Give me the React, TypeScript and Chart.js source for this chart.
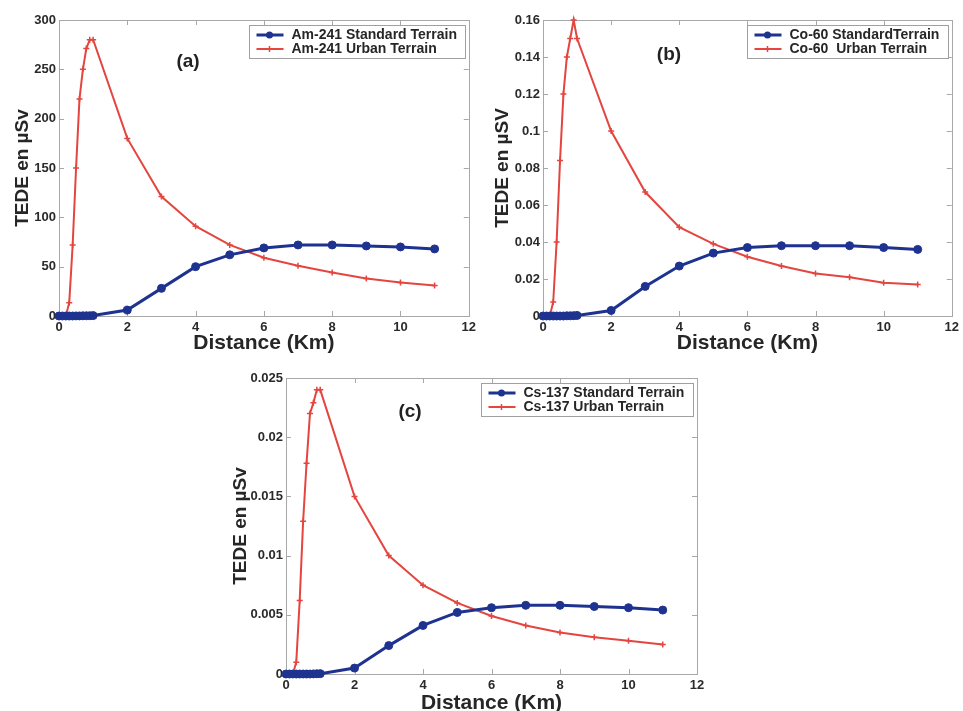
import React, { useEffect, useRef } from "react";
import { Chart, registerables } from "chart.js";
Chart.register(...registerables);

const distances = [0, 0.1, 0.2, 0.3, 0.4, 0.5, 0.6, 0.7, 0.8, 0.9, 1, 2, 3, 4, 5, 6, 7, 8, 9, 10, 11];
const xTicks = [0, 2, 4, 6, 8, 10, 12];

const amStandard = [0, 0, 0, 0, 0, 0.1, 0.1, 0.2, 0.2, 0.3, 0.4, 6, 28, 50, 62, 69, 72, 72, 71, 70, 68];
const amUrban = [0, 0, 0, 13.5, 72, 150, 220, 250, 271, 280, 280, 180, 121, 91, 72, 59, 51, 44, 38, 34, 31];
const amTicks = [0, 50, 100, 150, 200, 250, 300];

const coStandard = [0, 0, 0, 0, 0, 0, 0, 0.0001, 0.0001, 0.0002, 0.0003, 0.003, 0.016, 0.027, 0.034, 0.037, 0.038, 0.038, 0.038, 0.037, 0.036];
const coUrban = [0, 0, 0, 0.0076, 0.04, 0.084, 0.12, 0.14, 0.15, 0.16, 0.15, 0.1, 0.067, 0.048, 0.039, 0.032, 0.027, 0.023, 0.021, 0.018, 0.017];
const coTicks = [0, 0.02, 0.04, 0.06, 0.08, 0.1, 0.12, 0.14, 0.16];

const csStandard = [0, 0, 0, 0, 0, 0, 0, 0, 0.00001, 0.00002, 0.00003, 0.0005, 0.0024, 0.0041, 0.0052, 0.0056, 0.0058, 0.0058, 0.0057, 0.0056, 0.0054];
const csUrban = [0, 0, 0, 0.001, 0.0062, 0.0129, 0.0178, 0.022, 0.0229, 0.024, 0.024, 0.015, 0.01, 0.0075, 0.006, 0.0049, 0.0041, 0.0035, 0.0031, 0.0028, 0.0025];
const csTicks = [0, 0.005, 0.01, 0.015, 0.02, 0.025];

const FONT = "'Liberation Sans', Arial, Helvetica, sans-serif";
const BLUE = "#1e3390";
const RED = "#e4453f";

const decorPlugin = {
  id: "decor",
  beforeDatasetsDraw(chart: any) {
    const ctx = chart.ctx;
    const ca = chart.chartArea;
    ctx.save();
    ctx.strokeStyle = "#a8a8a8";
    ctx.lineWidth = 1;
    const L = 5;
    const xs = chart.scales.x;
    const ys = chart.scales.y;
    ctx.beginPath();
    xs.ticks.forEach((t: any) => {
      const px = Math.round(xs.getPixelForValue(t.value)) + 0.5;
      ctx.moveTo(px, ca.bottom);
      ctx.lineTo(px, ca.bottom - L);
      ctx.moveTo(px, ca.top);
      ctx.lineTo(px, ca.top + L);
    });
    ys.ticks.forEach((t: any) => {
      const py = Math.round(ys.getPixelForValue(t.value)) + 0.5;
      ctx.moveTo(ca.left, py);
      ctx.lineTo(ca.left + L, py);
      ctx.moveTo(ca.right, py);
      ctx.lineTo(ca.right - L, py);
    });
    ctx.stroke();
    ctx.strokeRect(Math.round(ca.left) + 0.5, Math.round(ca.top) + 0.5, Math.round(ca.right - ca.left), Math.round(ca.bottom - ca.top));
    ctx.restore();
  },
  afterDatasetsDraw(chart: any, _args: any, opts: any) {
    const ctx = chart.ctx;
    const ca = chart.chartArea;
    ctx.save();
    // panel label
    ctx.font = `bold 19px ${FONT}`;
    ctx.fillStyle = "#222";
    ctx.textAlign = "center";
    ctx.textBaseline = "middle";
    ctx.fillText(opts.panel, ca.left + opts.panelDx, ca.top + opts.panelDy);
    // legend
    ctx.font = `bold 14px ${FONT}`;
    const dss = chart.data.datasets;
    const textW = Math.max(...dss.map((d: any) => ctx.measureText(d.label).width));
    const w = Math.round(51 + textW);
    const h = 33;
    const x0 = Math.round(ca.right - 4 - w) + 0.5;
    const y0 = Math.round(ca.top + 5) + 0.5;
    ctx.fillStyle = "#fff";
    ctx.fillRect(x0, y0, w, h);
    ctx.strokeStyle = "#a0a0a0";
    ctx.lineWidth = 1;
    ctx.strokeRect(x0, y0, w, h);
    dss.forEach((d: any, i: number) => {
      const y = y0 + 9.5 + i * 14;
      ctx.strokeStyle = d.borderColor;
      ctx.lineWidth = d.borderWidth;
      ctx.beginPath();
      ctx.moveTo(x0 + 7, y);
      ctx.lineTo(x0 + 34, y);
      ctx.stroke();
      const mx = x0 + 20;
      if (d.pointStyle === "cross") {
        ctx.lineWidth = 1.5;
        ctx.beginPath();
        ctx.moveTo(mx - 3, y);
        ctx.lineTo(mx + 3, y);
        ctx.moveTo(mx, y - 3);
        ctx.lineTo(mx, y + 3);
        ctx.stroke();
      } else {
        ctx.fillStyle = d.borderColor;
        ctx.beginPath();
        ctx.arc(mx, y, 3.5, 0, Math.PI * 2);
        ctx.fill();
      }
      ctx.fillStyle = "#262626";
      ctx.textAlign = "left";
      ctx.textBaseline = "middle";
      ctx.fillText(d.label, x0 + 42, y + 0.5);
    });
    ctx.restore();
  },
};

type PanelProps = {
  left: number;
  top: number;
  width: number;
  height: number;
  yWidth: number;
  xHeight: number;
  padTop: number;
  padRight: number;
  yTitlePad: number;
  yTitle: string;
  yTicks: number[];
  standard: number[];
  urban: number[];
  standardLabel: string;
  urbanLabel: string;
  panel: string;
  panelDx: number;
  panelDy: number;
};

function fmt(v: number) {
  return String(Number(v.toFixed(5)));
}

function Panel(p: PanelProps) {
  const ref = useRef<HTMLCanvasElement | null>(null);
  useEffect(() => {
    if (!ref.current) return;
    const tickFont = { family: FONT, size: 13, weight: "bold" as const };
    const chart = new Chart(ref.current, {
      type: "line",
      data: {
        datasets: [
          {
            label: p.standardLabel,
            data: distances.map((x, i) => ({ x, y: p.standard[i] })),
            borderColor: BLUE,
            backgroundColor: BLUE,
            borderWidth: 3,
            pointStyle: "circle",
            pointRadius: 4,
            pointBackgroundColor: BLUE,
            pointBorderColor: BLUE,
            pointBorderWidth: 1,
            tension: 0,
            clip: false as any,
          },
          {
            label: p.urbanLabel,
            data: distances.map((x, i) => ({ x, y: p.urban[i] })),
            borderColor: RED,
            backgroundColor: RED,
            borderWidth: 2,
            pointStyle: "cross",
            pointRadius: 3,
            pointBorderColor: RED,
            pointBorderWidth: 1.5,
            tension: 0,
            clip: false as any,
          },
        ],
      },
      options: {
        animation: false,
        responsive: false,
        maintainAspectRatio: false,
        layout: { padding: { top: p.padTop, right: p.padRight, left: 0, bottom: 0 } },
        plugins: {
          legend: { display: false },
          tooltip: { enabled: false },
          decor: { panel: p.panel, panelDx: p.panelDx, panelDy: p.panelDy },
        } as any,
        scales: {
          x: {
            type: "linear",
            min: 0,
            max: 12,
            afterBuildTicks: (s: any) => {
              s.ticks = xTicks.map((v) => ({ value: v }));
            },
            afterFit: (s: any) => {
              s.height = p.xHeight;
            },
            grid: { display: false, drawTicks: false },
            border: { display: false },
            ticks: { font: tickFont, color: "#2a2a2a", padding: 4, callback: (v: any) => fmt(Number(v)) },
            title: {
              display: true,
              text: "Distance (Km)",
              font: { family: FONT, size: 21, weight: "bold" },
              color: "#262626",
              padding: { top: 0, bottom: 4 },
            },
          },
          y: {
            type: "linear",
            min: 0,
            max: p.yTicks[p.yTicks.length - 1],
            afterBuildTicks: (s: any) => {
              s.ticks = p.yTicks.map((v) => ({ value: v }));
            },
            afterFit: (s: any) => {
              s.width = p.yWidth;
            },
            grid: { display: false, drawTicks: false },
            border: { display: false },
            ticks: { font: tickFont, color: "#2a2a2a", padding: 3, callback: (v: any) => fmt(Number(v)) },
            title: {
              display: true,
              text: p.yTitle,
              font: { family: FONT, size: 19, weight: "bold" },
              color: "#262626",
              padding: { top: p.yTitlePad, bottom: 0 },
            },
          },
        },
      },
      plugins: [decorPlugin],
    } as any);
    return () => chart.destroy();
  }, []);
  return (
    <div style={{ position: "absolute", left: p.left, top: p.top, width: p.width, height: p.height }}>
      <canvas ref={ref} width={p.width} height={p.height} style={{ display: "block" }} />
    </div>
  );
}

export default function App() {
  return (
    <div
      style={{
        position: "fixed",
        left: 0,
        top: 0,
        width: 963,
        height: 711,
        overflow: "hidden",
        background: "#fff",
      }}
    >
      <Panel
        left={0}
        top={0}
        width={480}
        height={360}
        yWidth={59}
        xHeight={44}
        padTop={20}
        padRight={10}
        yTitlePad={11}
        yTitle="TEDE en µSv"
        yTicks={amTicks}
        standard={amStandard}
        urban={amUrban}
        standardLabel="Am-241 Standard Terrain"
        urbanLabel="Am-241 Urban Terrain"
        panel="(a)"
        panelDx={129}
        panelDy={42}
      />
      <Panel
        left={480}
        top={0}
        width={483}
        height={360}
        yWidth={63}
        xHeight={44}
        padTop={20}
        padRight={9}
        yTitlePad={11}
        yTitle="TEDE en µSV"
        yTicks={coTicks}
        standard={coStandard}
        urban={coUrban}
        standardLabel="Co-60 StandardTerrain"
        urbanLabel="Co-60  Urban Terrain"
        panel="(b)"
        panelDx={126}
        panelDy={35}
      />
      <Panel
        left={200}
        top={360}
        width={520}
        height={360}
        yWidth={86}
        xHeight={46}
        padTop={18}
        padRight={23}
        yTitlePad={29}
        yTitle="TEDE en µSv"
        yTicks={csTicks}
        standard={csStandard}
        urban={csUrban}
        standardLabel="Cs-137 Standard Terrain"
        urbanLabel="Cs-137 Urban Terrain"
        panel="(c)"
        panelDx={124}
        panelDy={34}
      />
    </div>
  );
}
